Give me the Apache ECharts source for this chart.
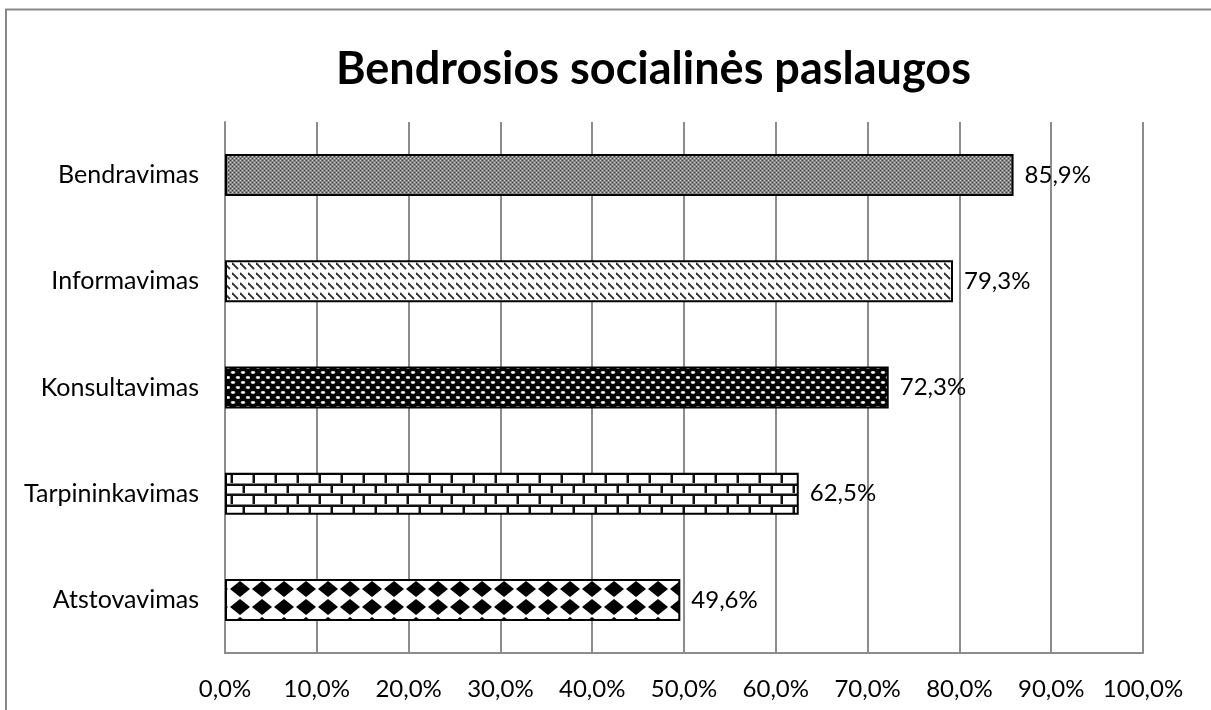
<!DOCTYPE html>
<html><head><meta charset="utf-8">
<script src="https://cdn.jsdelivr.net/npm/echarts@6/dist/echarts.min.js"></script>
<style>html,body{margin:0;padding:0;background:#fff}#c{width:1211px;height:710px}</style>
</head><body><div id="c"></div>
<script>
const titleText = 'Bendrosios socialinės paslaugos';
const categories = ['Bendravimas', 'Informavimas', 'Konsultavimas', 'Tarpininkavimas', 'Atstovavimas'];
const values = [85.9, 79.3, 72.3, 62.5, 49.6];
const xTicks = [0, 10, 20, 30, 40, 50, 60, 70, 80, 90, 100];

function tile(w, h, draw) {
  const c = document.createElement('canvas');
  c.width = w; c.height = h;
  const g = c.getContext('2d');
  draw(g, w, h);
  return c;
}
const patterns = [
  // fine gray dotted
  tile(4, 4, (g) => {
    g.fillStyle = '#858585'; g.fillRect(0, 0, 4, 4);
    g.fillStyle = '#d0d0d0'; g.fillRect(0, 0, 1, 1); g.fillRect(2, 2, 1, 1);
    g.fillStyle = '#404040'; g.fillRect(2, 0, 1, 1); g.fillRect(0, 2, 1, 1);
  }),
  // diagonal dashes rows
  tile(8, 20, (g) => {
    g.fillStyle = '#fff'; g.fillRect(0, 0, 8, 20);
    g.strokeStyle = '#333'; g.lineWidth = 1.8;
    g.beginPath(); g.moveTo(0, 3); g.lineTo(6, 9); g.stroke();
    g.beginPath(); g.moveTo(0, 13); g.lineTo(6, 19); g.stroke();
  }),
  // black with light ovals
  tile(10, 10, (g) => {
    g.fillStyle = '#000'; g.fillRect(0, 0, 10, 10);
    g.fillStyle = '#bbb';
    g.beginPath(); g.ellipse(3, 2.5, 2.4, 1.4, 0, 0, Math.PI * 2); g.fill();
    g.beginPath(); g.ellipse(8, 7.5, 2.4, 1.4, 0, 0, Math.PI * 2); g.fill();
    g.fillStyle = '#fff';
    g.beginPath(); g.ellipse(3, 2.5, 1.5, 0.9, 0, 0, Math.PI * 2); g.fill();
    g.beginPath(); g.ellipse(8, 7.5, 1.5, 0.9, 0, 0, Math.PI * 2); g.fill();
  }),
  // bricks
  tile(22, 21, (g) => {
    g.fillStyle = '#fff'; g.fillRect(0, 0, 22, 21);
    g.fillStyle = '#888';
    g.fillRect(0, 0, 22, 3); g.fillRect(0, 10, 22, 3);
    g.fillRect(0, 0, 3, 10); g.fillRect(10, 10, 3, 11);
    g.fillStyle = '#111';
    g.fillRect(0, 1, 22, 2); g.fillRect(0, 11, 22, 2);
    g.fillRect(1, 1, 2, 9); g.fillRect(11, 11, 2, 10);
  }),
  // diamonds
  tile(22, 18, (g) => {
    g.fillStyle = '#fff'; g.fillRect(0, 0, 22, 18);
    g.fillStyle = '#000';
    const d = (cx, cy) => { g.beginPath(); g.moveTo(cx, cy - 8); g.lineTo(cx + 10, cy); g.lineTo(cx, cy + 8); g.lineTo(cx - 10, cy); g.closePath(); g.fill(); };
    [20, -2].forEach((cx) => { d(cx, 13); d(cx, -5); });
  })
];

const chart = echarts.init(document.getElementById('c'), null, { renderer: 'canvas' });
const fontFam = 'Lato, "Open Sans", sans-serif';
chart.setOption({
  animation: false,
  backgroundColor: '#fff',
  title: {
    text: titleText, left: 331, top: 42,
    textStyle: { fontFamily: fontFam, fontWeight: 'bold', fontSize: 45, color: '#000' }
  },
  graphic: [{
    type: 'polyline', silent: true,
    shape: { points: [[6, 720], [6, 9.5], [1220, 9.5]] },
    style: { stroke: '#888', lineWidth: 2, fill: null }
  }],
  grid: { left: 225, right: 68, top: 122, bottom: 57 },
  xAxis: {
    type: 'value', min: 0, max: 100, interval: 10,
    axisLine: { show: true, lineStyle: { color: '#8c8c8c', width: 2 } },
    axisTick: { show: false },
    splitLine: { show: true, lineStyle: { color: '#8c8c8c', width: 2 } },
    axisLabel: {
      margin: 24, color: '#000', fontFamily: fontFam, fontSize: 24,
      formatter: (v) => v.toFixed(1).replace('.', ',') + '%'
    }
  },
  yAxis: {
    type: 'category', data: categories, inverse: true,
    axisLine: { show: true, lineStyle: { color: '#8c8c8c', width: 2 } },
    axisTick: { show: false },
    axisLabel: { margin: 26, color: '#000', fontFamily: fontFam, fontSize: 25 }
  },
  series: [{
    type: 'bar', barWidth: 42,
    data: values.map((v, i) => ({
      value: v,
      itemStyle: { color: { image: patterns[i], repeat: 'repeat' }, borderColor: '#000', borderWidth: 2 }
    })),
    label: {
      show: true, position: 'right', distance: 11, color: '#000',
      fontFamily: fontFam, fontSize: 24,
      formatter: (p) => p.value.toFixed(1).replace('.', ',') + '%'
    }
  }]
});
</script></body></html>
